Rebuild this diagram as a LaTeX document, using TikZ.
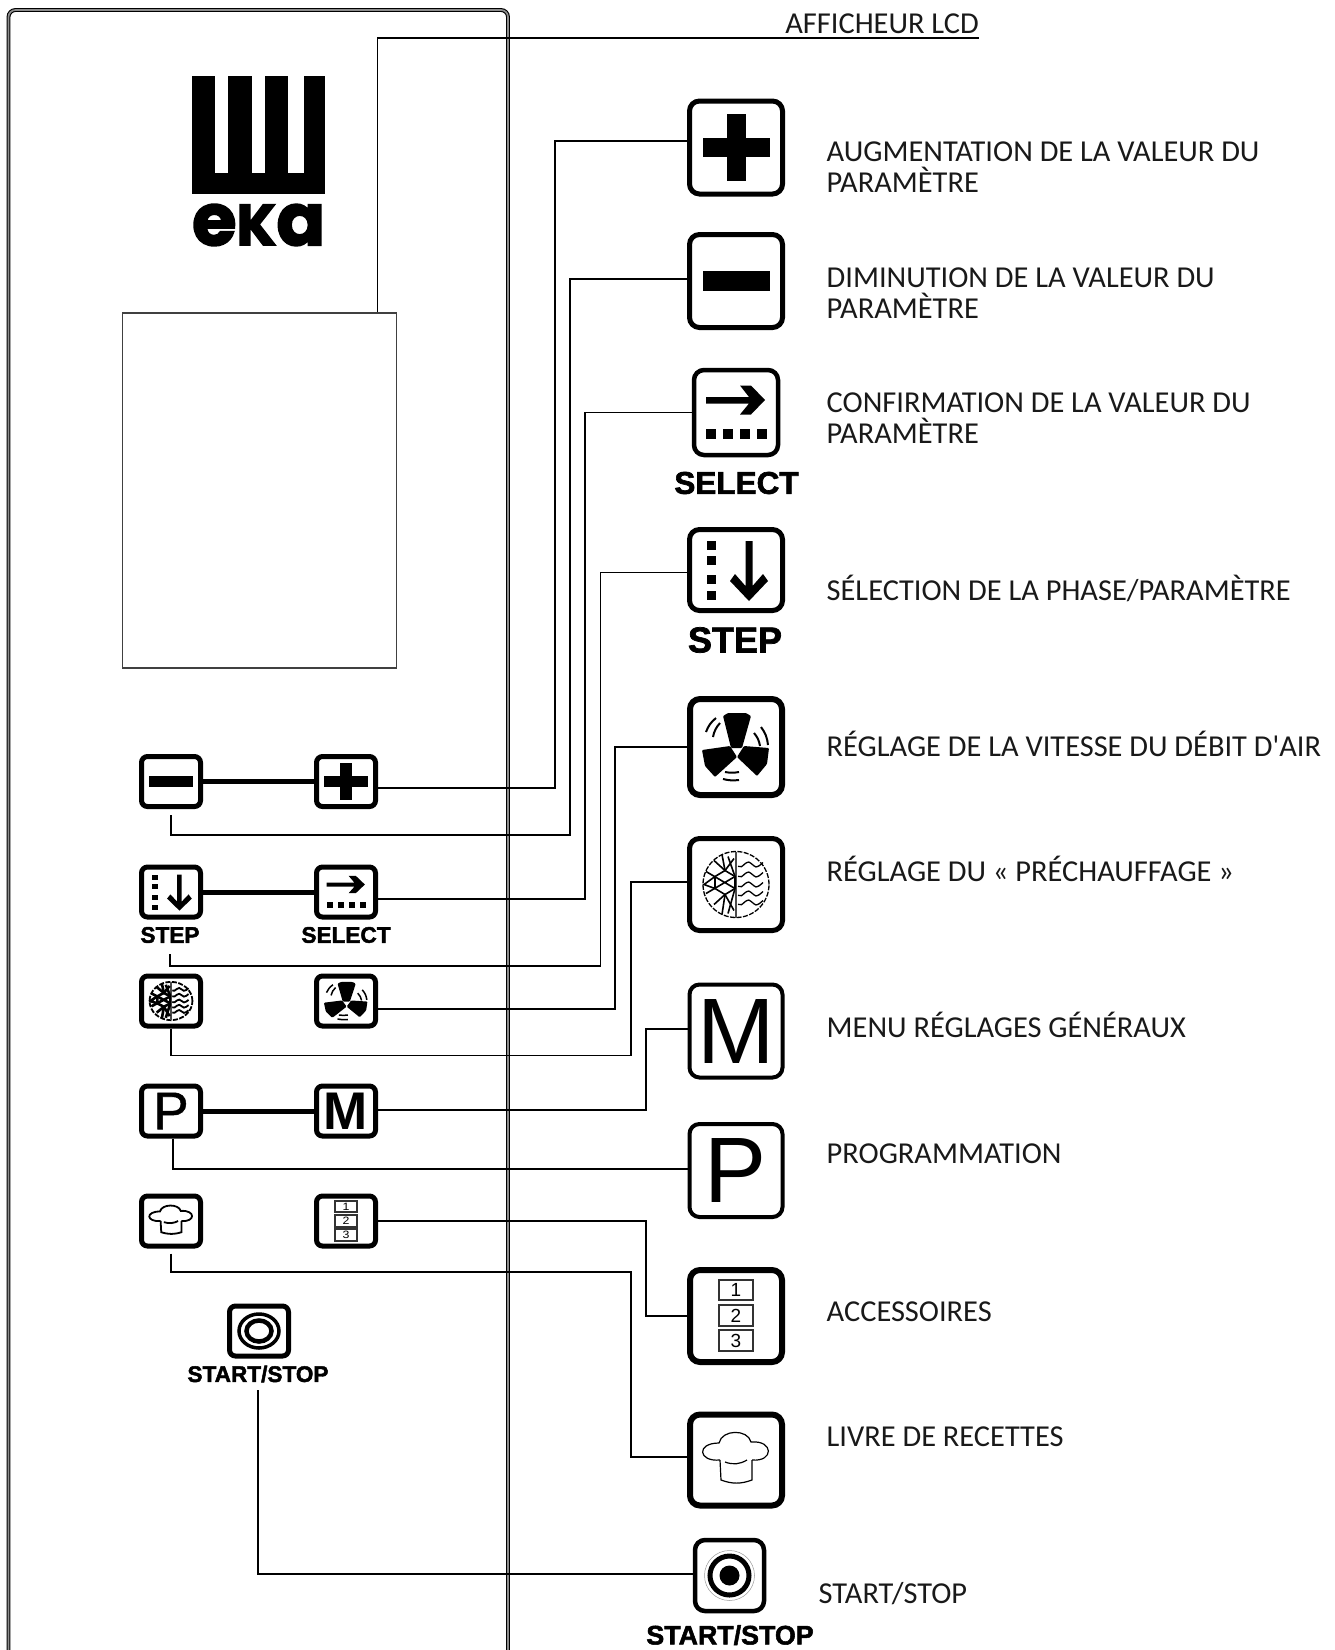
\documentclass[tikz,border=0pt]{standalone}
\usepackage{fontspec}
\usepackage{amsmath}
\usepackage{xcolor}
\newfontfamily\labelfont{Carlito}
\newfontfamily\keyfont{Liberation Sans}
\newfontfamily\keyheavy[FakeBold=1]{Liberation Sans}
\newfontfamily\capfont[FakeBold=2]{Liberation Sans Bold}
\newfontfamily\logofont[FakeBold=2.5]{Poppins Bold}
\tikzset{
  x=1pt,y=-1pt,
  panel/.style={double=black!45,line width=1.1pt,double distance=1.7pt,rounded corners=7pt},
  lcdbox/.style={draw=black!75,line width=1.3pt,minimum width=274pt,minimum height=355pt,inner sep=0pt},
  wire/.style={draw,line width=1.8pt},
  link/.style={draw,line width=5pt},
  bigkey/.style={draw,line width=5pt,rounded corners=10pt,minimum width=93pt,minimum height=93pt,inner sep=0pt},
  smallkey/.style={draw,line width=5pt,rounded corners=6pt,minimum width=59pt,minimum height=50pt,inner sep=0pt},
  keytext/.style={anchor=base west,inner sep=0pt,align=left,font=\labelfont\fontsize{30.4}{31}\selectfont,text=black!90},
  bigcap/.style={inner sep=0pt,font=\capfont\fontsize{#1}{#1}\selectfont},
  smallcap/.style={inner sep=0pt,font=\capfont\fontsize{22.6}{22.6}\selectfont},
}
\newcommand{\glyphplus}{
  \fill (-33.5,-9.5) rectangle (33.5,9.5);
  \fill (-9.5,-33.5) rectangle (9.5,33.5);
}
\newcommand{\glyphminus}{
  \fill (-33.5,-10) rectangle (33.5,10);
}
\newcommand{\glyphselect}{
  \fill (-30,-15.5)--(13,-15.5)--(4,-27)--(15,-27)--(29,-12.5)--(15,2)--(4,2)--(13,-9)--(-30,-9)--cycle;
  \foreach \dotx in {-30,-13,4,21} \fill (\dotx,16.5) rectangle ++(10,10);
}
\newcommand{\glyphstep}{
  \foreach \doty in {-29,-14,5,21} \fill (-29,\doty) rectangle ++(9,9);
  \fill (9.5,-29)--(16.5,-29)--(16.5,16)--(27,4)--(32,11)--(13,31)--(-6,11)--(-1,4)--(9.5,16)--cycle;
}
\newcommand{\glyphfan}[1]{
  \fill[rounded corners=1pt] (-13,-31)--(-8,-34)--(10,-34)--(15,-31)--(6,1)--(-5,1)--cycle;
  \fill[rounded corners=1pt] (-34,3)--(-6,-1)--(1,10)--(-21,30)--(-31,19)--cycle;
  \fill[rounded corners=1pt] (1,10)--(8,-1)--(33,1)--(31,17)--(21,29)--cycle;
  \draw[line width=#1] (-30,-15) to[bend left=15] (-20,-29);
  \draw[line width=#1] (-23,-10) to[bend left=15] (-16,-24);
  \draw[line width=#1] (18,-14) to[bend left=15] (24,-1);
  \draw[line width=#1] (25,-20) to[bend left=15] (32,-2);
  \draw[line width=#1] (-11,25) to[bend right=10] (3,25);
  \draw[line width=#1] (-13,32) to[bend right=10] (3,33);
}
\newcommand{\glyphheat}[2]{
  \draw[line width=#1,dash pattern=on 5pt off 1.5pt] (0,0) circle[radius=33pt];
  \draw[line width=1.2pt,black!70] (0,-33)--(0,33);
  \begin{scope}
    \clip (-34,-34) rectangle (0,34);
    \draw[line width=#2] (-11,-14)--(-1,-8)--(-1,4)--(-11,10)--(-21,4)--(-21,-8)--cycle;
    \draw[line width=#2] (-30,-13)--(-1,4) (-30,9)--(-1,-8);
    \draw[line width=#2] (-11,-14)--(-14,-30) (-11,10)--(-14,30);
    \draw[line width=#2] (-1,-8)--(-8,-28) (-1,4)--(-8,29);
    \draw[line width=#2] (-21,-8)--(-32,0)--(-21,4);
    \draw[line width=#2] (-22,-24)--(-11,-14)--(-2,-26);
    \draw[line width=#2] (-22,20)--(-11,10)--(-2,26);
  \end{scope}
  \foreach \waveh in {-20,-10,0,9,18}
    \draw[line width=#1] plot[smooth,domain=2:27,samples=8] (\x,{\waveh+2.5*sin(\x*22)});
}
\newcommand{\glyphacc}[1]{
  \draw[line width=#1,black!80] (-17,-36) rectangle (17,-16);
  \draw[line width=#1,black!80] (-17,-11) rectangle (17,10);
  \draw[line width=#1,black!80] (-17,14) rectangle (17,35);
  \node[transform shape,inner sep=0pt,font=\keyfont\fontsize{19}{19}\selectfont] (digone) at (0,-26) {1};
  \node[transform shape,inner sep=0pt,font=\keyfont\fontsize{19}{19}\selectfont] (digtwo) at (0,-0.5) {2};
  \node[transform shape,inner sep=0pt,font=\keyfont\fontsize{19}{19}\selectfont] (digthree) at (0,24.5) {3};
}
\newcommand{\glyphchef}[1]{
  \draw[line width=#1] (-16,0) .. controls (-38,2) and (-40,-17) .. (-17,-17) .. controls (-14,-31) and (12,-31) .. (15,-18) .. controls (38,-20) and (38,2) .. (16,0);
  \draw[line width=#1] (-16,0)--(-15,20) to[bend right=20] (16,20)--(16,0);
  \draw[line width=#1] (-11,2) to[bend right=25] (11,0);
}
\begin{document}
\begin{tikzpicture}
\useasboundingbox (0,0) rectangle (1335,1650);
\draw[panel] (8.5,1650)--(8.5,10)--(508,10)--(508,1650);

\node[lcdbox] (lcd) at (259.5,490.5) {};
\fill (192,76) rectangle (325,194);
\fill[white] (215,70) rectangle (228,173);
\fill[white] (252,70) rectangle (265,173);
\fill[white] (287.5,70) rectangle (303.5,173);
\node[inner sep=0pt,anchor=north west] (logotext) at (192,204) {\resizebox{133pt}{41pt}{\logofont e\scalebox{0.8}{K}a}};

\node[smallkey] (keyminus) at (171,781.5) {};
\node[smallkey] (keyplus) at (346,781.5) {};
\node[smallkey] (keystep) at (171,892) {};
\node[smallkey] (keyselect) at (346,892) {};
\node[smallkey] (keyheat) at (171,1001) {};
\node[smallkey] (keyfan) at (346,1001) {};
\node[smallkey,font=\keyheavy\fontsize{53}{53}\selectfont] (keyp) at (171,1111) {P};
\node[smallkey,font=\keyfont\bfseries\fontsize{53}{53}\selectfont] (keym) at (346,1111) {M};
\node[smallkey] (keychef) at (171,1221) {};
\node[smallkey] (keyacc) at (346,1221) {};
\node[smallkey] (keystart) at (259,1331) {};
\node[smallcap] (capstep) at (170,935) {STEP};
\node[smallcap] (capselect) at (346,935) {SELECT};
\node[smallcap] (capstart) at (258,1374) {START/STOP};

\begin{scope}[shift={(keyplus.center)},xscale=.65,yscale=.56] \glyphplus \end{scope}
\begin{scope}[shift={(keyminus.center)},xscale=.65,yscale=.56] \glyphminus \end{scope}
\begin{scope}[shift={(keyselect.center)},xscale=.65,yscale=.6] \glyphselect \end{scope}
\begin{scope}[shift={(keystep.center)},xscale=.65,yscale=.6] \glyphstep \end{scope}
\begin{scope}[shift={(keyfan.center)},xscale=.65,yscale=.56] \glyphfan{1.5pt} \end{scope}
\begin{scope}[shift={(keyheat.center)},xscale=.65,yscale=.58] \glyphheat{1.8pt}{2.6pt} \end{scope}
\begin{scope}[shift={(keyacc.center)},xscale=.65,yscale=.56] \glyphacc{2pt} \end{scope}
\begin{scope}[shift={(keychef.center)},xscale=.65,yscale=.56] \glyphchef{1.8pt} \end{scope}
\draw[line width=3.5pt] (keystart.center) ellipse[x radius=20pt,y radius=17pt];
\draw[line width=4.5pt] (keystart.center) ellipse[x radius=12.5pt,y radius=10.5pt];

\node[bigkey] (bigplus) at (736,147.5) {};
\node[bigkey] (bigminus) at (736,281) {};
\node[bigkey,line width=4.5pt,minimum width=84pt,minimum height=85pt] (bigselect) at (736,412.5) {};
\node[bigkey,minimum height=81pt] (bigstep) at (736,570) {};
\node[bigkey,line width=6pt,minimum width=92pt,minimum height=96pt] (bigfan) at (736,747) {};
\node[bigkey,minimum height=92pt] (bigheat) at (736,884.5) {};
\node[bigkey,line width=4pt,font=\keyfont\fontsize{93}{93}\selectfont] (bigm) at (736,1031) {M};
\node[bigkey,line width=4pt,font=\keyfont\fontsize{93}{93}\selectfont] (bigp) at (736,1170.5) {P};
\node[bigkey,line width=6pt,minimum width=92pt,minimum height=92pt] (bigacc) at (736,1316) {};
\node[bigkey,line width=6pt,minimum width=92pt,minimum height=91pt] (bigchef) at (736,1460) {};
\node[bigkey,line width=4.5pt,minimum width=69pt,minimum height=71pt] (bigstart) at (729.5,1575.5) {};
\node[bigcap=31.5] (capselectbig) at (736.5,483) {SELECT};
\node[bigcap=36] (capstepbig) at (735,640) {STEP};
\node[bigcap=26.8] (capstartbig) at (730,1635) {START/STOP};

\begin{scope}[shift={(bigplus.center)}] \glyphplus \end{scope}
\begin{scope}[shift={(bigminus.center)}] \glyphminus \end{scope}
\begin{scope}[shift={(bigselect.center)}] \glyphselect \end{scope}
\begin{scope}[shift={(bigstep.center)}] \glyphstep \end{scope}
\begin{scope}[shift={(bigfan.center)}] \glyphfan{2pt} \end{scope}
\begin{scope}[shift={(bigheat.center)}] \glyphheat{1.3pt}{1.6pt} \end{scope}
\begin{scope}[shift={(bigacc.center)}] \glyphacc{1.2pt} \end{scope}
\begin{scope}[shift={(bigchef.center)}] \glyphchef{1.2pt} \end{scope}
\draw[line width=5pt] (bigstart.center) circle[radius=19.5pt];
\fill (bigstart.center) circle[radius=10pt];
\draw[line width=0.5pt,black!40] (bigstart.center) circle[radius=25pt];

\draw[link] (keyminus)--(keyplus);
\draw[link] (keystep)--(keyselect);
\draw[link] (keyp)--(keym);

\draw[wire] ([yshift=-6.5pt]keyplus.east)--++(177,0) |- ([yshift=6.5pt]bigplus.west);
\draw[wire] ([yshift=-6pt]keyminus.south)--++(0,20)--++(399,0) |- ([yshift=2pt]bigminus.west);
\draw[wire] ([yshift=-7pt]keyselect.east)--++(207,0) |- (bigselect.west);
\draw[wire] ([yshift=-19pt]capstep.center)--++(0,12)--++(430.5,0) |- ([yshift=-2.5pt]bigstep.west);
\draw[wire] ([yshift=-8pt]keyfan.east)--++(237,0) |- (bigfan.west);
\draw[wire] (keyheat.south)--++(0,27)--++(460,0) |- ([yshift=2.5pt]bigheat.west);
\draw[wire] ([yshift=1pt]keym.east)--++(268,0) |- ([yshift=2pt]bigm.west);
\draw[wire] ([xshift=2pt]keyp.south) |- ([yshift=1.5pt]bigp.west);
\draw[wire] (keyacc.east)--++(268,0) |- (bigacc.west);
\draw[wire] ([yshift=-5pt]keychef.south)--++(0,18.5)--++(460,0) |- ([yshift=3pt]bigchef.west);
\draw[wire] ([yshift=-16pt]capstart.center) |- ([yshift=1.5pt]bigstart.west);

\node[keytext,anchor=south east,text depth=4pt] (lcdlabel) at (979,38) {AFFICHEUR LCD};
\draw[wire] ([xshift=118pt]lcd.north) |- (lcdlabel.south east);
\node[keytext] (txtplus) at (826.5,192) {AUGMENTATION DE LA VALEUR DU\\[0pt]PARAMÈTRE};
\node[keytext] (txtminus) at (826.5,318.5) {DIMINUTION DE LA VALEUR DU\\[0pt]PARAMÈTRE};
\node[keytext] (txtselect) at (826.5,443.5) {CONFIRMATION DE LA VALEUR DU\\[0pt]PARAMÈTRE};
\node[keytext] (txtstep) at (826.5,600) {SÉLECTION DE LA PHASE/PARAMÈTRE};
\node[keytext] (txtfan) at (826.5,756) {RÉGLAGE DE LA VITESSE DU DÉBIT D'AIR};
\node[keytext] (txtheat) at (826.5,881) {RÉGLAGE DU « PRÉCHAUFFAGE »};
\node[keytext] (txtm) at (826.5,1037) {MENU RÉGLAGES GÉNÉRAUX};
\node[keytext] (txtp) at (826.5,1163) {PROGRAMMATION};
\node[keytext] (txtacc) at (826.5,1321) {ACCESSOIRES};
\node[keytext] (txtchef) at (826.5,1446) {LIVRE DE RECETTES};
\node[keytext] (txtstart) at (818.5,1603) {START/STOP};
\end{tikzpicture}
\end{document}
